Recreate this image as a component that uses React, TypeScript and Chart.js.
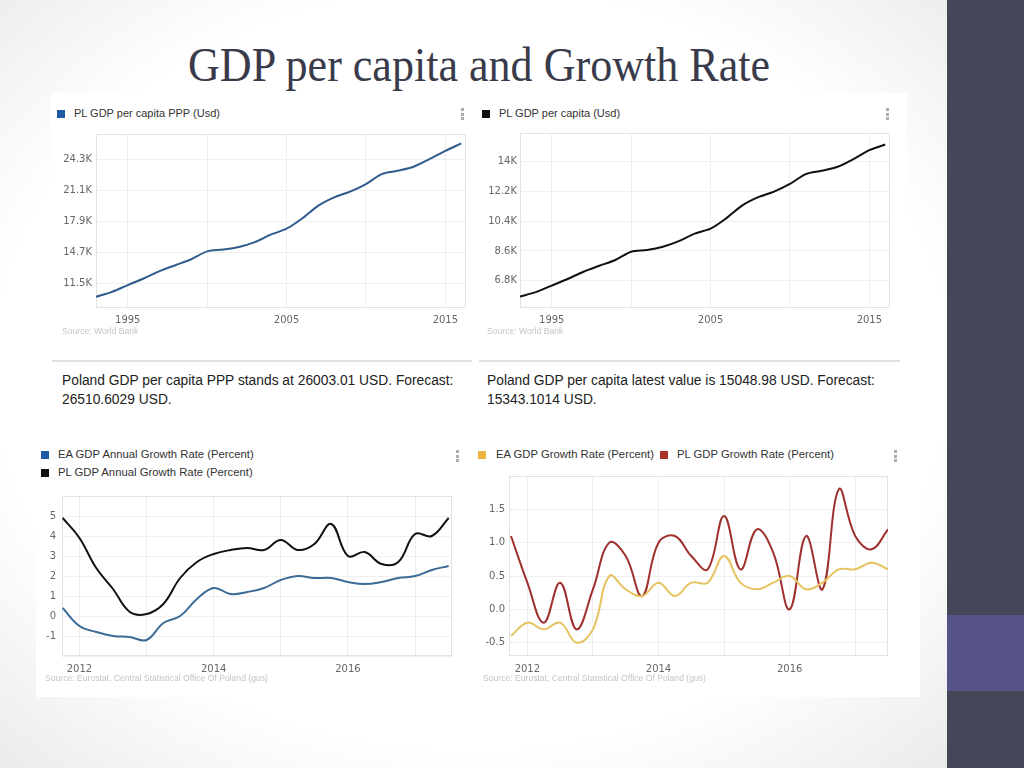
import React, { useEffect, useLayoutEffect, useRef } from "react";
import { Chart, registerables } from "chart.js";

Chart.register(...registerables);

// ---------- data ----------
const YEARS = [1993, 1994, 1995, 1996, 1997, 1998, 1999, 2000, 2001, 2002, 2003, 2004, 2005, 2006, 2007, 2008, 2009, 2010, 2011, 2012, 2013, 2014, 2015, 2016];
const PL_GDP_PPP_K = [10.09, 10.6, 11.3, 11.98, 12.74, 13.36, 13.98, 14.8, 14.98, 15.25, 15.76, 16.53, 17.15, 18.24, 19.55, 20.41, 21.0, 21.79, 22.82, 23.16, 23.58, 24.37, 25.23, 26.0];
const PL_GDP_USD_K = [5.84, 6.1, 6.5, 6.9, 7.34, 7.7, 8.05, 8.55, 8.65, 8.85, 9.19, 9.65, 9.95, 10.59, 11.36, 11.86, 12.2, 12.66, 13.26, 13.46, 13.7, 14.17, 14.71, 15.05];
const PPP_TICKS = [11.5, 14.7, 17.9, 21.1, 24.3];
const USD_TICKS = [6.8, 8.6, 10.4, 12.2, 14];
const YEAR_GRID = [1995, 2000, 2005, 2010, 2015];
const YEAR_LABELS = [1995, 2005, 2015];

const QUARTERS = ["2011Q4", "2012Q1", "2012Q2", "2012Q3", "2012Q4", "2013Q1", "2013Q2", "2013Q3", "2013Q4", "2014Q1", "2014Q2", "2014Q3", "2014Q4", "2015Q1", "2015Q2", "2015Q3", "2015Q4", "2016Q1", "2016Q2", "2016Q3", "2016Q4", "2017Q1", "2017Q2", "2017Q3"];
const EA_ANNUAL = [0.4, -0.5, -0.8, -1.0, -1.05, -1.2, -0.35, 0.0, 0.85, 1.4, 1.1, 1.2, 1.4, 1.8, 2.0, 1.9, 1.9, 1.7, 1.6, 1.7, 1.9, 2.0, 2.3, 2.5];
const PL_ANNUAL = [4.9, 3.9, 2.4, 1.35, 0.2, 0.1, 0.6, 1.9, 2.7, 3.1, 3.3, 3.4, 3.3, 3.8, 3.3, 3.6, 4.6, 3.0, 3.2, 2.6, 2.7, 4.1, 4.0, 4.9];
const EA_QOQ = [-0.4, -0.2, -0.3, -0.2, -0.5, -0.3, 0.5, 0.3, 0.2, 0.4, 0.2, 0.4, 0.4, 0.8, 0.4, 0.3, 0.4, 0.5, 0.3, 0.4, 0.6, 0.6, 0.7, 0.6];
const PL_QOQ = [1.1, 0.4, -0.2, 0.4, -0.3, 0.3, 1.0, 0.8, 0.2, 1.0, 1.1, 0.8, 0.6, 1.4, 0.6, 1.2, 0.85, 0.0, 1.1, 0.3, 1.8, 1.1, 0.9, 1.2];
const ANNUAL_TICKS = [-2, -1, 0, 1, 2, 3, 4, 5, 6];
const ANNUAL_LABELS = [-1, 0, 1, 2, 3, 4, 5];
const QOQ_TICKS = [-0.5, 0, 0.5, 1, 1.5, 2];
const QOQ_LABELS = [-0.5, 0, 0.5, 1, 1.5];
const Q_YEAR_GRID = [2012, 2013, 2014, 2015, 2016, 2017];
const Q_YEAR_LABELS = [2012, 2014, 2016];

const quarterToX = (q: string) => Number(q.slice(0, 4)) + (Number(q.slice(5)) - 1) / 4;
const yearPoints = (vals: number[]) => YEARS.map((y, i) => ({ x: y, y: vals[i] }));
const quarterPoints = (vals: number[]) => QUARTERS.map((q, i) => ({ x: quarterToX(q), y: vals[i] }));

const TICK_FONT = { family: "'DejaVu Sans', Verdana, sans-serif", size: 10 };
const TICK_COLOR = "#666666";
const GRID_COLOR = "#efefef";

const plotBorder = {
  id: "plotBorder",
  beforeDatasetsDraw(chart: any) {
    const { ctx, chartArea } = chart;
    ctx.save();
    ctx.strokeStyle = "#e2e2e2";
    ctx.lineWidth = 1;
    ctx.strokeRect(Math.round(chartArea.left) + 0.5, Math.round(chartArea.top) + 0.5, Math.round(chartArea.right - chartArea.left) - 1, Math.round(chartArea.bottom - chartArea.top) - 1);
    ctx.restore();
  },
};

type Spec = {
  left: number; top: number; width: number; height: number;
  padTop: number; padRight: number; yWidth: number; xHeight: number;
  xMin: number; xMax: number; xGrid: number[]; xLabels: number[]; xPad: number;
  yMin: number; yMax: number; yGrid: number[]; yLabels: number[]; yFmt: (v: number) => string; yPad: number;
  tension: number;
  series: { points: { x: number; y: number }[]; color: string }[];
};

function LineChart({ spec }: { spec: Spec }) {
  const ref = useRef<HTMLCanvasElement>(null);
  useEffect(() => {
    if (!ref.current) return;
    const chart = new Chart(ref.current, {
      type: "line",
      data: {
        datasets: spec.series.map((s) => ({
          data: s.points,
          borderColor: s.color,
          backgroundColor: s.color,
          borderWidth: 2,
          pointRadius: 0,
          tension: spec.tension,
          fill: false,
        })),
      },
      options: {
        animation: false,
        responsive: false,
        maintainAspectRatio: false,
        layout: { padding: { top: spec.padTop, right: spec.padRight, left: 0, bottom: 0 } },
        plugins: { legend: { display: false }, tooltip: { enabled: false } },
        scales: {
          x: {
            type: "linear",
            min: spec.xMin,
            max: spec.xMax,
            afterBuildTicks: (s: any) => { s.ticks = spec.xGrid.map((v) => ({ value: v })); },
            afterFit: (s: any) => { s.height = spec.xHeight; },
            grid: { color: GRID_COLOR, drawTicks: false },
            border: { display: false },
            ticks: {
              autoSkip: false, maxRotation: 0, padding: spec.xPad, color: TICK_COLOR, font: TICK_FONT,
              callback: (v: any) => (spec.xLabels.includes(Number(v)) ? String(v) : ""),
            },
          },
          y: {
            type: "linear",
            min: spec.yMin,
            max: spec.yMax,
            afterBuildTicks: (s: any) => { s.ticks = spec.yGrid.map((v) => ({ value: v })); },
            afterFit: (s: any) => { s.width = spec.yWidth; },
            grid: { color: GRID_COLOR, drawTicks: false },
            border: { display: false },
            ticks: {
              autoSkip: false, padding: spec.yPad, color: TICK_COLOR, font: TICK_FONT,
              callback: (v: any) => (spec.yLabels.includes(Number(v)) ? spec.yFmt(Number(v)) : ""),
            },
          },
        },
      },
      plugins: [plotBorder],
    } as any);
    return () => chart.destroy();
  }, [spec]);
  return (
    <canvas
      ref={ref}
      width={spec.width}
      height={spec.height}
      style={{ position: "absolute", left: spec.left, top: spec.top, width: spec.width, height: spec.height }}
    />
  );
}

const kFmt = (v: number) => `${+v.toFixed(1)}K`;

const SPEC1: Spec = {
  left: 52, top: 124, width: 420, height: 206, padTop: 8, padRight: 6, yWidth: 44, xHeight: 22,
  xMin: 1993, xMax: 2016.3, xGrid: YEAR_GRID, xLabels: YEAR_LABELS, xPad: 6,
  yMin: 8.92, yMax: 26.98, yGrid: PPP_TICKS, yLabels: PPP_TICKS, yFmt: kFmt, yPad: 4,
  tension: 0.3,
  series: [{ points: yearPoints(PL_GDP_PPP_K), color: "#2f5c8c" }],
};
const SPEC2: Spec = {
  left: 478, top: 124, width: 420, height: 206, padTop: 8, padRight: 8, yWidth: 42, xHeight: 22,
  xMin: 1993, xMax: 2016.3, xGrid: YEAR_GRID, xLabels: YEAR_LABELS, xPad: 6,
  yMin: 5.14, yMax: 15.75, yGrid: USD_TICKS, yLabels: USD_TICKS, yFmt: kFmt, yPad: 3,
  tension: 0.3,
  series: [{ points: yearPoints(PL_GDP_USD_K), color: "#111111" }],
};
const SPEC3: Spec = {
  left: 36, top: 484, width: 420, height: 194, padTop: 8, padRight: 4, yWidth: 26, xHeight: 22,
  xMin: 2011.74, xMax: 2017.55, xGrid: Q_YEAR_GRID, xLabels: Q_YEAR_LABELS, xPad: 7,
  yMin: -2, yMax: 6, yGrid: ANNUAL_TICKS, yLabels: ANNUAL_LABELS, yFmt: (v) => String(v), yPad: 6,
  tension: 0.4,
  series: [
    { points: quarterPoints(EA_ANNUAL), color: "#3c6b96" },
    { points: quarterPoints(PL_ANNUAL), color: "#111111" },
  ],
};
const SPEC4: Spec = {
  left: 470, top: 466, width: 424, height: 212, padTop: 7, padRight: 6, yWidth: 39, xHeight: 22,
  xMin: 2011.72, xMax: 2017.5, xGrid: Q_YEAR_GRID, xLabels: Q_YEAR_LABELS, xPad: 7,
  yMin: -0.7, yMax: 2.0, yGrid: QOQ_TICKS, yLabels: QOQ_LABELS, yFmt: (v) => v.toFixed(1), yPad: 4,
  tension: 0.4,
  series: [
    { points: quarterPoints(EA_QOQ), color: "#e6c35e" },
    { points: quarterPoints(PL_QOQ), color: "#9e302d" },
  ],
};

const ARIAL = "'Liberation Sans', Arial, sans-serif";

function Txt({ x, y, size, color, children, family = ARIAL }: any) {
  return (
    <div style={{ position: "absolute", left: x, top: y, fontSize: size, color, fontFamily: family, lineHeight: 1.2, whiteSpace: "nowrap" }}>
      {children}
    </div>
  );
}
function Swatch({ x, y, color }: any) {
  return <div style={{ position: "absolute", left: x, top: y, width: 8, height: 8, background: color }} />;
}
function Dots({ x, y }: any) {
  return (
    <>
      {[0, 4.5, 9].map((d) => (
        <div key={d} style={{ position: "absolute", left: x, top: y + d, width: 3, height: 3, background: "#adadad" }} />
      ))}
    </>
  );
}

export default function App() {
  const titleRef = useRef<HTMLSpanElement>(null);
  useLayoutEffect(() => {
    const el = titleRef.current;
    if (!el) return;
    el.style.transform = "none";
    const w = el.getBoundingClientRect().width;
    if (w > 0) el.style.transform = `scaleX(${582 / w})`;
  }, []);

  return (
    <div style={{ position: "absolute", left: 0, top: 0, width: 1024, height: 768, overflow: "hidden", background: "radial-gradient(ellipse 75% 80% at 46% 48%, #ffffff 62%, #e3e3e3 100%)" }}>
      {/* right bar */}
      <div style={{ position: "absolute", left: 947, top: 0, width: 77, height: 768, background: "#454657" }} />
      <div style={{ position: "absolute", left: 947, top: 615, width: 77, height: 76, background: "#555388" }} />

      {/* title */}
      <div style={{ position: "absolute", left: 0, width: 958, top: 41, textAlign: "center", lineHeight: "48px", height: 48 }}>
        <span ref={titleRef} style={{ display: "inline-block", fontFamily: "'Liberation Serif', 'DejaVu Serif', serif", fontSize: 48, color: "#3a3b4a", transformOrigin: "center" }}>
          GDP per capita and Growth Rate
        </span>
      </div>

      {/* screenshot panels */}
      <div style={{ position: "absolute", left: 51, top: 93, width: 856, height: 332, background: "#ffffff" }} />
      <div style={{ position: "absolute", left: 36, top: 436, width: 884, height: 261, background: "#ffffff" }} />

      {/* chart 1 */}
      <Swatch x={57} y={110} color="#1f5aa6" />
      <Txt x={74} y={107} size={11} color="#333">PL GDP per capita PPP (Usd)</Txt>
      <Dots x={461} y={108} />
      <LineChart spec={SPEC1} />
      <Txt x={62} y={326} size={8.6} color="#c4c4c4">Source: World Bank</Txt>

      {/* chart 2 */}
      <Swatch x={482} y={110} color="#111111" />
      <Txt x={499} y={107} size={11} color="#333">PL GDP per capita (Usd)</Txt>
      <Dots x={886} y={108} />
      <LineChart spec={SPEC2} />
      <Txt x={487} y={326} size={8.6} color="#c4c4c4">Source: World Bank</Txt>

      {/* separators & summaries */}
      <div style={{ position: "absolute", left: 52, top: 360, width: 420, height: 2, background: "#e2e2e2" }} />
      <div style={{ position: "absolute", left: 479, top: 360, width: 421, height: 2, background: "#e2e2e2" }} />
      <div style={{ position: "absolute", left: 62, top: 371, fontFamily: ARIAL, fontSize: 13.8, lineHeight: "19px", color: "#222", width: 420, whiteSpace: "nowrap" }}>
        Poland GDP per capita PPP stands at 26003.01 USD. Forecast:<br />26510.6029 USD.
      </div>
      <div style={{ position: "absolute", left: 487, top: 371, fontFamily: ARIAL, fontSize: 13.8, lineHeight: "19px", color: "#222", width: 420, whiteSpace: "nowrap" }}>
        Poland GDP per capita latest value is 15048.98 USD. Forecast:<br />15343.1014 USD.
      </div>

      {/* chart 3 */}
      <Swatch x={41} y={451} color="#1f5aa6" />
      <Txt x={58} y={448} size={11.3} color="#333">EA GDP Annual Growth Rate (Percent)</Txt>
      <Swatch x={41} y={469} color="#111111" />
      <Txt x={58} y={466} size={11.3} color="#333">PL GDP Annual Growth Rate (Percent)</Txt>
      <Dots x={456} y={450} />
      <LineChart spec={SPEC3} />
      <Txt x={45} y={673} size={8.6} color="#c4c4c4">Source: Eurostat, Central Statistical Office Of Poland (gus)</Txt>

      {/* chart 4 */}
      <Swatch x={478} y={451} color="#e9b53e" />
      <Txt x={496} y={448} size={11.3} color="#333">EA GDP Growth Rate (Percent)</Txt>
      <Swatch x={660} y={451} color="#ad2f29" />
      <Txt x={677} y={448} size={11.3} color="#333">PL GDP Growth Rate (Percent)</Txt>
      <Dots x={894} y={450} />
      <LineChart spec={SPEC4} />
      <Txt x={483} y={673} size={8.6} color="#c4c4c4">Source: Eurostat, Central Statistical Office Of Poland (gus)</Txt>
    </div>
  );
}
